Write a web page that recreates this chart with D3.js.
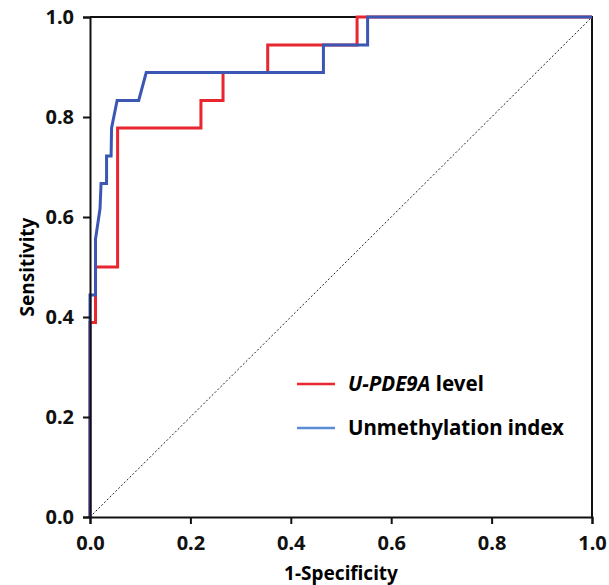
<!DOCTYPE html>
<html>
<head>
<meta charset="utf-8">
<script src="https://cdn.jsdelivr.net/npm/d3@7"></script>
<style>
  body { margin: 0; background: #fff; }
  text { font-family: "Noto Sans", "Open Sans", sans-serif; }
</style>
</head>
<body>
<script>
// ROC points: [1-specificity, sensitivity]
const pdeFpr  = [0, 0, 0.011, 0.011, 0.055, 0.055, 0.221, 0.221, 0.265, 0.265, 0.354, 0.354, 0.532, 0.532, 1];
const pdeTpr  = [0, 0.389, 0.389, 0.5, 0.5, 0.778, 0.778, 0.833, 0.833, 0.889, 0.889, 0.944, 0.944, 1, 1];
const umiFpr  = [0, 0, 0.011, 0.011, 0.02, 0.022, 0.033, 0.033, 0.042, 0.043, 0.054, 0.097, 0.112, 0.465, 0.465, 0.553, 0.553, 1];
const umiTpr  = [0, 0.444, 0.444, 0.556, 0.617, 0.667, 0.667, 0.722, 0.722, 0.778, 0.833, 0.833, 0.889, 0.889, 0.944, 0.944, 1, 1];
const ticks = [0, 0.2, 0.4, 0.6, 0.8, 1.0];
const seriesNames = ['U-PDE9A level', 'Unmethylation index'];

const width = 609, height = 585;
const x = d3.scaleLinear().domain([0, 1]).range([90, 592]);
const y = d3.scaleLinear().domain([0, 1]).range([517, 17]);

const svg = d3.select('body')
    .append('svg')
    .attr('width', width)
    .attr('height', height)

// chance line
svg.append('line')
    .attr('x1', x(0)).attr('y1', y(0))
    .attr('x2', x(1)).attr('y2', y(1))
    .attr('stroke', '#222')
    .attr('stroke-width', 1)
    .attr('stroke-dasharray', '2,2')

// box top/right
svg.append('path')
    .attr('d', `M${x(0)},${y(1)}H${x(1)}V${y(0)}`)
    .attr('fill', 'none')
    .attr('stroke', '#111')
    .attr('stroke-width', 2)

const line = d3.line().x(d => x(d[0])).y(d => y(d[1]));

svg.append('path')
    .datum(pdeFpr.map((f, i) => [f, pdeTpr[i]]))
    .attr('d', line)
    .attr('fill', 'none')
    .attr('stroke', '#e8262f')
    .attr('stroke-width', 3)

svg.append('path')
    .datum(umiFpr.map((f, i) => [f, umiTpr[i]]))
    .attr('d', line)
    .attr('fill', 'none')
    .attr('stroke', '#3c57b3')
    .attr('stroke-width', 3)

const xAxis = svg.append('g')
    .attr('transform', `translate(0,${y(0)})`)
    .call(d3.axisBottom(x).tickValues(ticks).tickFormat(d3.format('.1f')).tickSize(7).tickPadding(12))
const yAxis = svg.append('g')
    .attr('transform', `translate(${x(0)},0)`)
    .call(d3.axisLeft(y).tickValues(ticks).tickFormat(d3.format('.1f')).tickSize(7).tickPadding(9))

;[xAxis, yAxis].forEach(g => {
    g.select('.domain').attr('stroke', '#111').attr('stroke-width', 2)
    g.selectAll('.tick line').attr('stroke', '#111').attr('stroke-width', 2)
    g.selectAll('.tick text')
        .attr('fill', '#111')
        .style('font-size', '20px')
        .style('font-weight', 'bold')
})

svg.append('text')
    .attr('x', (x(0) + x(1)) / 2)
    .attr('y', 580)
    .attr('text-anchor', 'middle')
    .style('font-size', '19px')
    .style('font-weight', 'bold')
    .text('1-Specificity')

svg.append('text')
    .attr('transform', `translate(34,${(y(0) + y(1)) / 2}) rotate(-90)`)
    .attr('text-anchor', 'middle')
    .style('font-size', '19px')
    .style('font-weight', 'bold')
    .text('Sensitivity')

// legend
const legColors = ['#e8262f', '#5b8dd6'];
const leg = svg.selectAll('.leg')
    .data(seriesNames)
    .enter()
    .append('g')
    .attr('transform', (d, i) => `translate(297,${384 + i * 44})`)

leg.append('line')
    .attr('x1', 0).attr('x2', 38)
    .attr('stroke', (d, i) => legColors[i])
    .attr('stroke-width', 2.5)

const legText = leg.append('text')
    .attr('x', 51)
    .attr('y', 7)
    .style('font-size', '20.5px')
    .style('font-weight', 'bold')

legText.filter((d, i) => i === 0).each(function () {
    const t = d3.select(this)
    t.append('tspan').style('font-style', 'italic').text('U-PDE9A')
    t.append('tspan').text(' level')
})
legText.filter((d, i) => i === 1).text(d => d)
</script>
</body>
</html>
